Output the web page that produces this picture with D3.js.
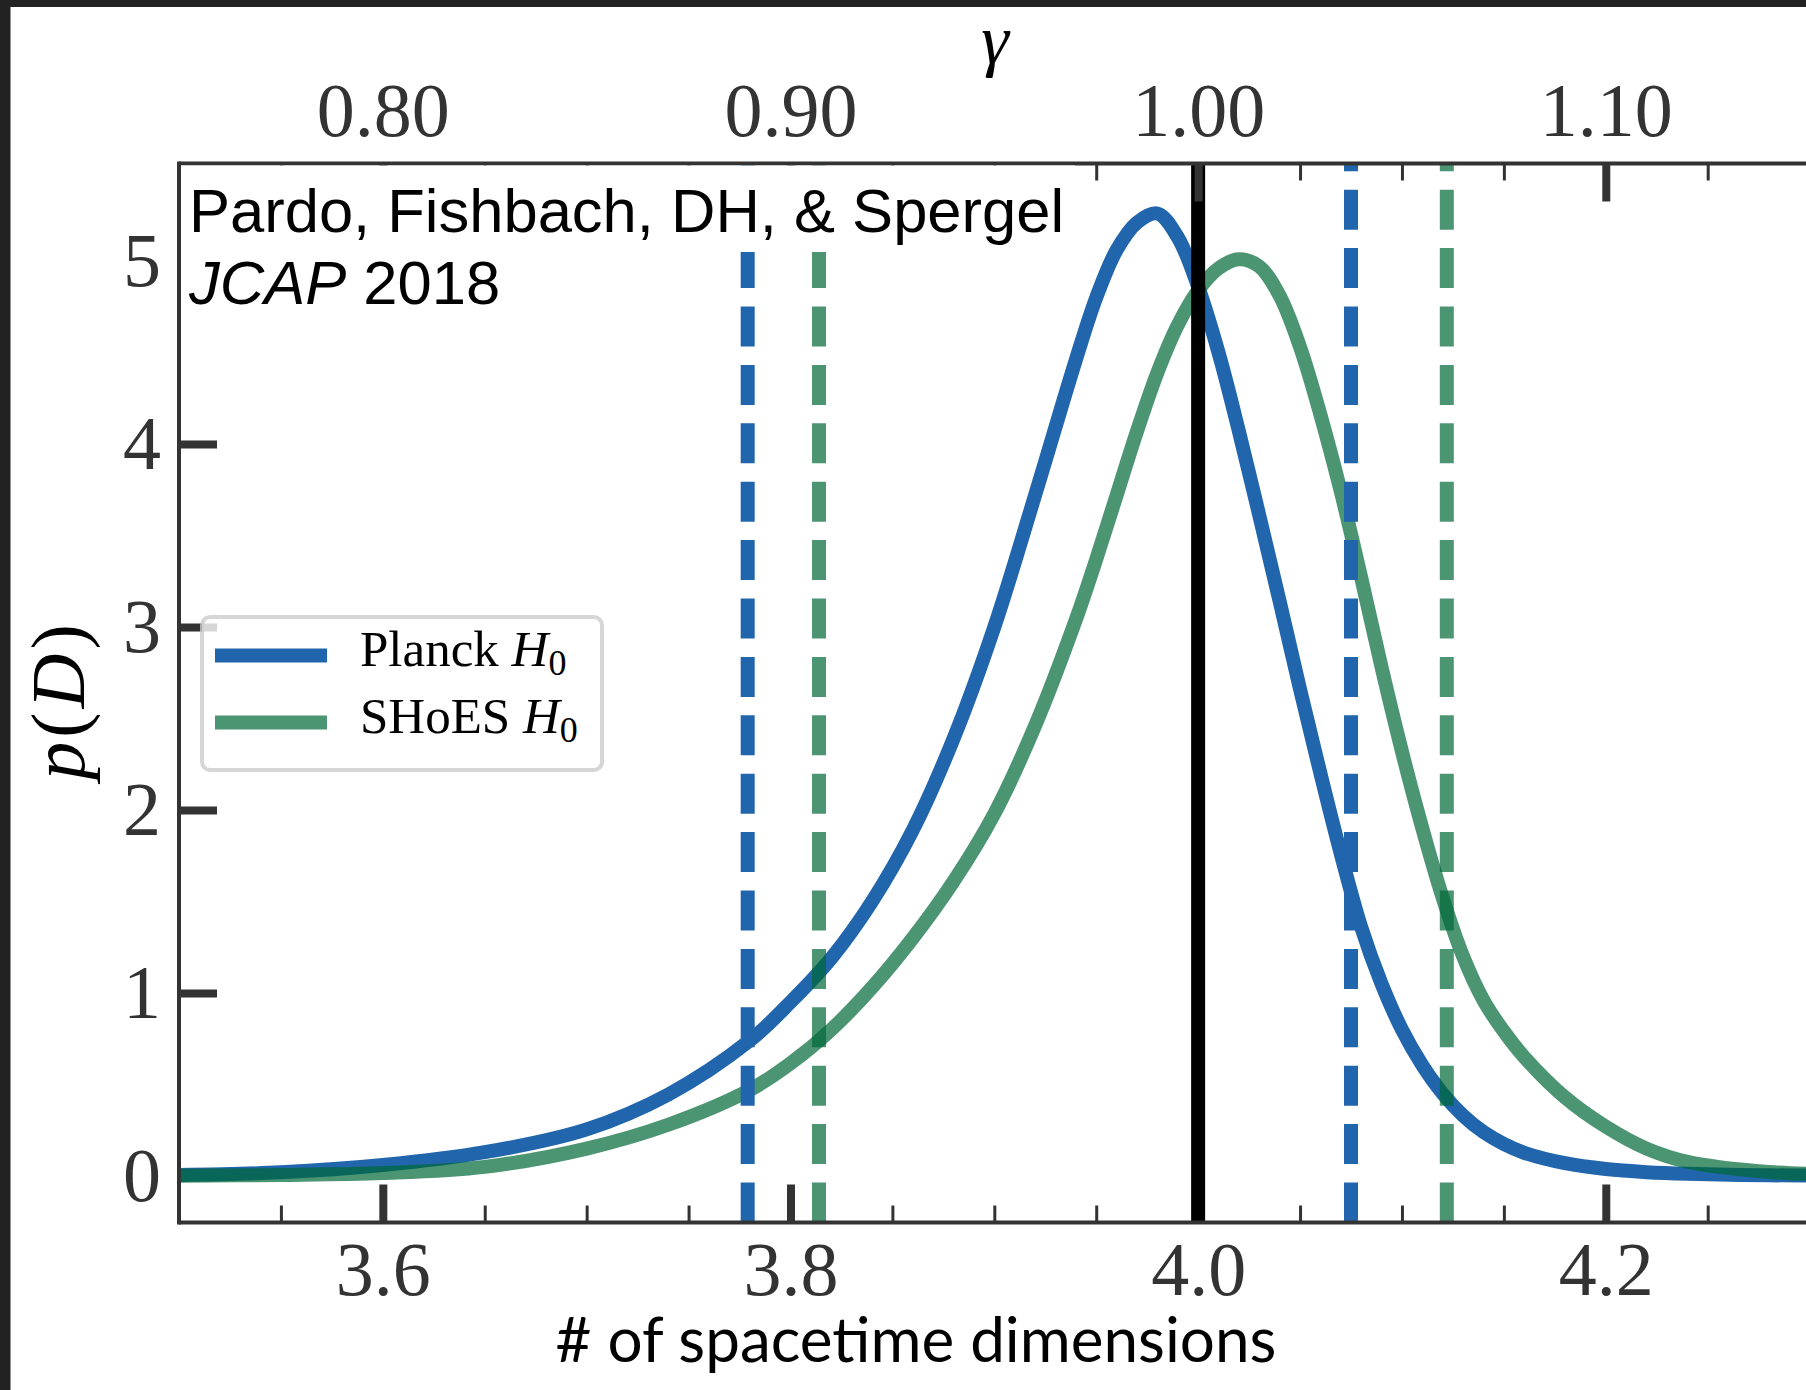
<!DOCTYPE html>
<html>
<head>
<meta charset="utf-8">
<script src="https://cdn.jsdelivr.net/npm/d3@7"></script>
<style>
  body { margin: 0; background: #fff; }
  svg { display: block; }
</style>
</head>
<body>
<svg id="chart"></svg>
<script>
// values
const dims = [3.50, 3.55, 3.60, 3.65, 3.70, 3.74, 3.78, 3.80, 3.82, 3.84, 3.86, 3.88, 3.90, 3.92, 3.94,
  3.95, 3.96, 3.97, 3.98, 3.99, 4.00, 4.01, 4.02, 4.03, 4.04, 4.05, 4.06, 4.07, 4.08, 4.09, 4.10,
  4.11, 4.12, 4.13, 4.14, 4.15, 4.16, 4.18, 4.20, 4.22, 4.24, 4.28, 4.32];
const planck = [0.005, 0.02, 0.06, 0.13, 0.255, 0.445, 0.74, 0.95, 1.19, 1.50, 1.89, 2.39, 3.00, 3.72, 4.46,
  4.80, 5.06, 5.21, 5.26, 5.13, 4.86, 4.50, 4.07, 3.61, 3.14, 2.66, 2.20, 1.76, 1.36, 1.05, 0.80,
  0.605, 0.45, 0.33, 0.24, 0.175, 0.127, 0.07, 0.038, 0.021, 0.012, 0.004, 0.001];
const shoes = [0.002, 0.006, 0.016, 0.05, 0.15, 0.28, 0.47, 0.615, 0.80, 1.03, 1.30, 1.61, 1.98, 2.46, 3.04,
  3.37, 3.72, 4.07, 4.39, 4.65, 4.84, 4.96, 5.01, 4.97, 4.81, 4.53, 4.16, 3.74, 3.27, 2.78, 2.32,
  1.90, 1.52, 1.20, 0.96, 0.79, 0.65, 0.43, 0.27, 0.15, 0.078, 0.022, 0.007];
const planckBounds = [3.779, 4.075];
const shoesBounds = [3.814, 4.122];
const trueDim = 4.0;

const seriesNames = ["Planck", "SHoES"];
const xMajor = [3.6, 3.8, 4.0, 4.2];
const xMinor = [3.55, 3.65, 3.70, 3.75, 3.85, 3.90, 3.95, 4.05, 4.10, 4.15, 4.25, 4.30];
const yMajor = [0, 1, 2, 3, 4, 5];
const gMajor = [0.80, 0.90, 1.00, 1.10];
const gMinor = [0.775, 0.825, 0.85, 0.875, 0.925, 0.95, 0.975, 1.025, 1.05, 1.075, 1.125, 1.15];

const W = 1806, H = 1390;
const pLeft = 179, pTop = 163.5, pBottom = 1222.5, pRight = 1830;
const blue = "#2166ac", green = "#006837";
const serif = "'Liberation Serif', 'DejaVu Serif', serif";

const svg = d3.select("#chart").attr("width", W).attr("height", H);

const x = d3.scaleLinear().domain([3.5, 4.31]).range([pLeft, pRight]);
const y = d3.scaleLinear().domain([-0.254, 5.533]).range([pBottom, pTop]);
// gamma = (D - 2) / 2 on the top axis
const gx = d3.scaleLinear().domain([0.75, 1.155]).range([pLeft, pRight]);

svg.append("rect").attr("width", W).attr("height", H).attr("fill", "#fff");
// dark slide edge
svg.append("rect").attr("width", W).attr("height", 7).attr("fill", "#222");
svg.append("rect").attr("width", 10.5).attr("height", H).attr("fill", "#222");

svg.append("clipPath").attr("id", "plot")
  .append("rect").attr("x", pLeft).attr("y", pTop).attr("width", pRight - pLeft).attr("height", pBottom - pTop);

function styleAxis(sel, width) {
  sel.attr("color", "#333").attr("font-family", serif).attr("font-size", 76);
  sel.select(".domain").remove();
  sel.selectAll(".tick line").attr("stroke-width", width);
  sel.selectAll(".tick text").attr("fill", "#333");
}

// bottom / left ticks (under the lines)
svg.append("g").attr("transform", `translate(0,${pBottom})`)
  .call(d3.axisBottom(x).tickValues(xMinor).tickFormat("").tickSize(-17).tickSizeOuter(0))
  .call(styleAxis, 3);
svg.append("g").attr("transform", `translate(0,${pBottom})`)
  .call(d3.axisBottom(x).tickValues(xMajor).tickFormat(d3.format(".1f")).tickSize(-38).tickPadding(18.5).tickSizeOuter(0))
  .call(styleAxis, 8);
svg.append("g").attr("transform", `translate(${pLeft},0)`)
  .call(d3.axisLeft(y).tickValues(yMajor).tickFormat(d3.format("d")).tickSize(-38).tickPadding(18).tickSizeOuter(0))
  .call(styleAxis, 8);

const plot = svg.append("g").attr("clip-path", "url(#plot)");

const line = d3.line()
  .x((d, i) => x(dims[i]))
  .y(d => y(d))
  .curve(d3.curveCatmullRom.alpha(0.5));

plot.append("path").datum(planck)
  .attr("d", line).attr("fill", "none").attr("stroke", blue).attr("stroke-width", 14);
plot.append("path").datum(shoes)
  .attr("d", line).attr("fill", "none").attr("stroke", green).attr("stroke-opacity", 0.7).attr("stroke-width", 14);

function vline(v, color, op, dashed) {
  plot.append("line")
    .attr("x1", x(v)).attr("x2", x(v))
    .attr("y1", pBottom).attr("y2", pTop)
    .attr("stroke", color).attr("stroke-opacity", op).attr("stroke-width", 14)
    .attr("stroke-dasharray", dashed ? "40 18.4" : null);
}
planckBounds.forEach(v => vline(v, blue, 1, true));
shoesBounds.forEach(v => vline(v, green, 0.7, true));
vline(trueDim, "#000", 1, false);

// spines
const spines = svg.append("g").attr("stroke", "#333").attr("stroke-width", 4);
spines.append("line").attr("x1", pLeft).attr("x2", pLeft).attr("y1", pTop - 2).attr("y2", pBottom + 2);
spines.append("line").attr("x1", pLeft).attr("x2", W).attr("y1", pBottom).attr("y2", pBottom);
spines.append("line").attr("x1", pLeft).attr("x2", W).attr("y1", pTop).attr("y2", pTop);

// twin gamma axis on top
svg.append("g").attr("transform", `translate(0,${pTop})`)
  .call(d3.axisTop(gx).tickValues(gMinor).tickFormat("").tickSize(-17).tickSizeOuter(0))
  .call(styleAxis, 3);
svg.append("g").attr("transform", `translate(0,${pTop})`)
  .call(d3.axisTop(gx).tickValues(gMajor).tickFormat(d3.format(".2f")).tickSize(-38).tickPadding(27.5).tickSizeOuter(0))
  .call(styleAxis, 8);

// legend
const legend = svg.append("g");
legend.append("rect")
  .attr("x", 202).attr("y", 617).attr("width", 400).attr("height", 153).attr("rx", 8)
  .attr("fill", "#fff").attr("fill-opacity", 0.8)
  .attr("stroke", "#ccc").attr("stroke-opacity", 0.8).attr("stroke-width", 4);
const legendColors = [[blue, 1], [green, 0.7]];
seriesNames.forEach((name, i) => {
  const ly = 655.6 + i * 67;
  legend.append("line")
    .attr("x1", 215).attr("x2", 327).attr("y1", ly).attr("y2", ly)
    .attr("stroke", legendColors[i][0]).attr("stroke-opacity", legendColors[i][1]).attr("stroke-width", 14);
  const t = legend.append("text")
    .attr("x", 360).attr("y", ly + 10)
    .attr("font-family", serif).attr("font-size", 51).attr("fill", "#000");
  t.append("tspan").text(name + " ");
  t.append("tspan").attr("font-style", "italic").text("H");
  t.append("tspan").attr("font-size", 36).attr("dy", 9).text("0");
});

// citation box
svg.append("rect").attr("x", 181).attr("y", 165.5).attr("width", 894).attr("height", 86.5).attr("fill", "#fff");
svg.append("rect").attr("x", 181).attr("y", 250).attr("width", 340).attr("height", 70).attr("fill", "#fff");
svg.append("text")
  .attr("x", 189).attr("y", 231.5)
  .attr("font-family", "'Liberation Sans', Arial, sans-serif").attr("font-size", 61.5).attr("fill", "#000")
  .text("Pardo, Fishbach, DH, & Spergel");
const cite = svg.append("text")
  .attr("x", 189).attr("y", 304)
  .attr("font-family", "'Liberation Sans', Arial, sans-serif").attr("font-size", 61.5).attr("fill", "#000");
cite.append("tspan").attr("font-style", "italic").text("JCAP");
cite.append("tspan").text(" 2018");

// axis labels
svg.append("text")
  .attr("x", 916).attr("y", 1362)
  .attr("text-anchor", "middle")
  .attr("font-family", "Lato, 'Open Sans', sans-serif").attr("font-size", 62).attr("fill", "#000")
  .text("# of spacetime dimensions");

svg.append("text")
  .attr("x", 995).attr("y", 63)
  .attr("text-anchor", "middle")
  .attr("font-family", serif).attr("font-style", "italic").attr("font-size", 70).attr("fill", "#000")
  .text("γ");

svg.append("text")
  .attr("transform", "translate(84,700) rotate(-90)")
  .attr("text-anchor", "middle")
  .attr("font-family", serif).attr("font-size", 76).attr("fill", "#000")
  .attr("letter-spacing", 4)
  .call(t => {
    t.append("tspan").attr("font-style", "italic").text("p");
    t.append("tspan").text("(");
    t.append("tspan").attr("font-style", "italic").text("D");
    t.append("tspan").text(")");
  });
</script>
</body>
</html>
